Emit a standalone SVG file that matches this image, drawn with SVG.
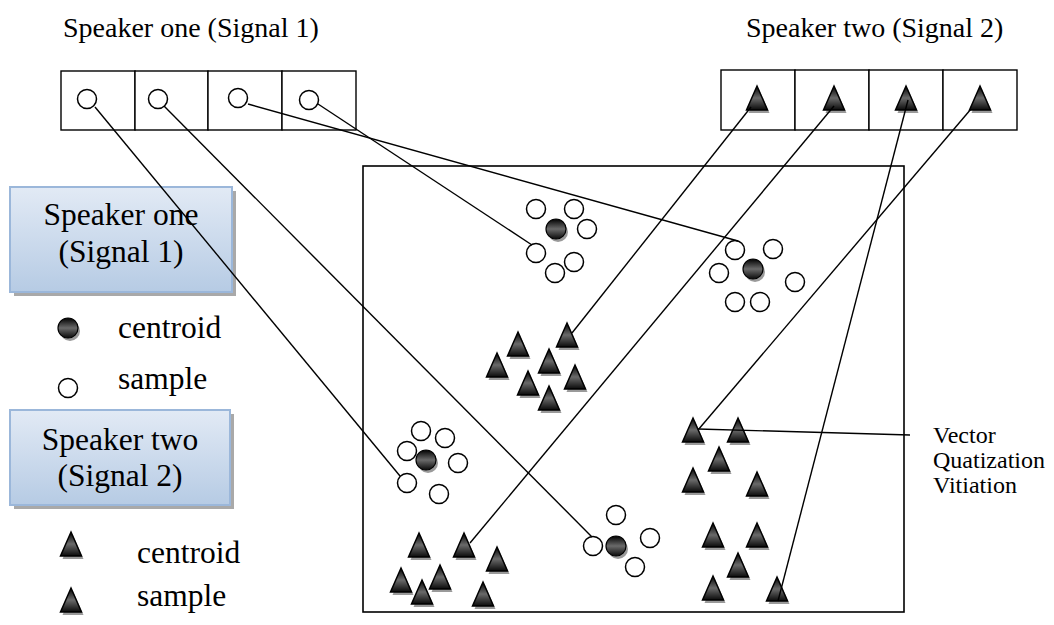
<svg xmlns="http://www.w3.org/2000/svg" xmlns:xlink="http://www.w3.org/1999/xlink" width="1054" height="625" viewBox="0 0 1054 625">
<style>
.t{font-family:"Liberation Serif","Times New Roman",serif;fill:#000}
.title{font-size:28px}
.leg{font-size:31.5px}
.ann{font-size:24px}
.cell{fill:#fff;stroke:#000;stroke-width:1.4}
.frame{fill:none;stroke:#000;stroke-width:1.6}
.conn line{stroke:#000;stroke-width:1.4}
.smp{fill:#fff;stroke:#000;stroke-width:1.5}
.lbox{fill:url(#boxg);stroke:#9bb7da;stroke-width:2}
.lshadow{fill:#a9a9a9}
</style>
<defs>
<linearGradient id="boxg" x1="0" y1="0" x2="0" y2="1">
<stop offset="0" stop-color="#e2eaf5"/>
<stop offset="1" stop-color="#b6cbe4"/>
</linearGradient>
<linearGradient id="darkg" x1="0" y1="0" x2="0" y2="1">
<stop offset="0" stop-color="#000"/>
<stop offset="0.5" stop-color="#6a6a6a"/>
<stop offset="1" stop-color="#0a0a0a"/>
</linearGradient>
<g id="tri">
<path d="M2,3 L12.5,27 L-8.5,27 Z" fill="#9a9a9a"/>
<path d="M0,0 L10.5,24 L-10.5,24 Z" fill="url(#darkg)" stroke="#000" stroke-width="1.5" stroke-linejoin="miter"/>
</g>
<g id="cen">
<circle cx="2" cy="3" r="10" fill="#9a9a9a"/>
<circle cx="0" cy="0" r="10" fill="url(#darkg)" stroke="#000" stroke-width="1.2"/>
</g>
<circle id="smp" r="9.5" class="smp"/>
</defs>
<rect width="1054" height="625" fill="#fff"/>

<g id="title-speaker-one"><text class="t title" x="63" y="37">Speaker one (Signal 1)</text></g>
<g id="title-speaker-two"><text class="t title" x="746" y="37">Speaker two (Signal 2)</text></g>

<g id="signal1-cells">
<rect class="cell" x="61" y="71" width="74" height="59"/>
<rect class="cell" x="135" y="71" width="73" height="59"/>
<rect class="cell" x="208" y="71" width="74" height="59"/>
<rect class="cell" x="282" y="71" width="74" height="59"/>
<use xlink:href="#smp" x="87" y="99"/>
<use xlink:href="#smp" x="158" y="99"/>
<use xlink:href="#smp" x="238" y="98"/>
<use xlink:href="#smp" x="309" y="100"/>
</g>

<g id="signal2-cells">
<rect class="cell" x="721" y="70" width="74" height="60"/>
<rect class="cell" x="795" y="70" width="74" height="60"/>
<rect class="cell" x="869" y="70" width="74" height="60"/>
<rect class="cell" x="943" y="70" width="74" height="60"/>
<use xlink:href="#tri" x="757" y="86"/>
<use xlink:href="#tri" x="834" y="86"/>
<use xlink:href="#tri" x="906" y="86"/>
<use xlink:href="#tri" x="980" y="86"/>
</g>

<g id="vq-space"><rect class="frame" x="363" y="166" width="541" height="446"/></g>

<g id="legend-speaker-one">
<rect class="lshadow" x="14" y="191" width="222" height="105"/>
<rect class="lbox" x="10" y="187" width="222" height="105"/>
<text class="t leg" x="121" y="225" text-anchor="middle">Speaker one</text>
<text class="t leg" x="121" y="262" text-anchor="middle">(Signal 1)</text>
</g>
<g id="legend-speaker-two">
<rect class="lshadow" x="14" y="414" width="220" height="95"/>
<rect class="lbox" x="10" y="410" width="220" height="95"/>
<text class="t leg" x="120" y="450" text-anchor="middle">Speaker two</text>
<text class="t leg" x="120" y="486" text-anchor="middle">(Signal 2)</text>
</g>

<g id="legend-items">
<use xlink:href="#cen" x="68" y="328"/>
<text class="t leg" x="118" y="338">centroid</text>
<use xlink:href="#smp" x="68" y="388"/>
<text class="t leg" x="118" y="389">sample</text>
<use xlink:href="#tri" x="71" y="532"/>
<text class="t leg" x="137" y="563">centroid</text>
<use xlink:href="#tri" x="71" y="588"/>
<text class="t leg" x="137" y="606">sample</text>
</g>

<g id="cluster-s1-a">
<use xlink:href="#smp" x="536" y="209"/>
<use xlink:href="#smp" x="574" y="209"/>
<use xlink:href="#smp" x="587" y="229"/>
<use xlink:href="#smp" x="536" y="253"/>
<use xlink:href="#smp" x="574" y="262"/>
<use xlink:href="#smp" x="555" y="273"/>
<use xlink:href="#cen" x="556" y="229"/>
</g>
<g id="cluster-s1-b">
<use xlink:href="#smp" x="735" y="250"/>
<use xlink:href="#smp" x="773" y="249"/>
<use xlink:href="#smp" x="719" y="273"/>
<use xlink:href="#smp" x="795" y="282"/>
<use xlink:href="#smp" x="735" y="302"/>
<use xlink:href="#smp" x="760" y="302"/>
<use xlink:href="#cen" x="753" y="269"/>
</g>
<g id="cluster-s1-c">
<use xlink:href="#smp" x="421" y="431"/>
<use xlink:href="#smp" x="445" y="438"/>
<use xlink:href="#smp" x="407" y="451"/>
<use xlink:href="#smp" x="458" y="463"/>
<use xlink:href="#smp" x="407" y="483"/>
<use xlink:href="#smp" x="439" y="494"/>
<use xlink:href="#cen" x="426" y="460"/>
</g>
<g id="cluster-s1-d">
<use xlink:href="#smp" x="616" y="515"/>
<use xlink:href="#smp" x="650" y="538"/>
<use xlink:href="#smp" x="593" y="546"/>
<use xlink:href="#smp" x="635" y="567"/>
<use xlink:href="#cen" x="616" y="546"/>
</g>

<g id="cluster-s2-a">
<use xlink:href="#tri" x="567" y="323"/>
<use xlink:href="#tri" x="518" y="332"/>
<use xlink:href="#tri" x="497" y="353"/>
<use xlink:href="#tri" x="549" y="349"/>
<use xlink:href="#tri" x="528" y="371"/>
<use xlink:href="#tri" x="575" y="365"/>
<use xlink:href="#tri" x="549" y="386"/>
</g>
<g id="cluster-s2-b">
<use xlink:href="#tri" x="419" y="533"/>
<use xlink:href="#tri" x="464" y="533"/>
<use xlink:href="#tri" x="497" y="547"/>
<use xlink:href="#tri" x="401" y="568"/>
<use xlink:href="#tri" x="440" y="565"/>
<use xlink:href="#tri" x="422" y="580"/>
<use xlink:href="#tri" x="483" y="582"/>
</g>
<g id="cluster-s2-c">
<use xlink:href="#tri" x="693" y="418"/>
<use xlink:href="#tri" x="738" y="418"/>
<use xlink:href="#tri" x="719" y="447"/>
<use xlink:href="#tri" x="693" y="468"/>
<use xlink:href="#tri" x="757" y="472"/>
<use xlink:href="#tri" x="713" y="523"/>
<use xlink:href="#tri" x="757" y="523"/>
<use xlink:href="#tri" x="738" y="553"/>
<use xlink:href="#tri" x="713" y="576"/>
<use xlink:href="#tri" x="777" y="577"/>
</g>

<g id="connectors" class="conn">
<line x1="95" y1="107" x2="400" y2="476"/>
<line x1="164" y1="106" x2="592" y2="537"/>
<line x1="248" y1="104" x2="738" y2="241"/>
<line x1="318" y1="104" x2="532" y2="245"/>
<line x1="751" y1="107" x2="572" y2="333"/>
<line x1="834" y1="106" x2="470" y2="543"/>
<line x1="908" y1="100" x2="778" y2="601"/>
<line x1="971" y1="109" x2="698" y2="430"/>
<line x1="698" y1="429" x2="910" y2="435"/>
</g>

<g id="annotation">
<text class="t ann" x="933" y="443">Vector</text>
<text class="t ann" x="933" y="468">Quatization</text>
<text class="t ann" x="933" y="493">Vitiation</text>
</g>
</svg>
